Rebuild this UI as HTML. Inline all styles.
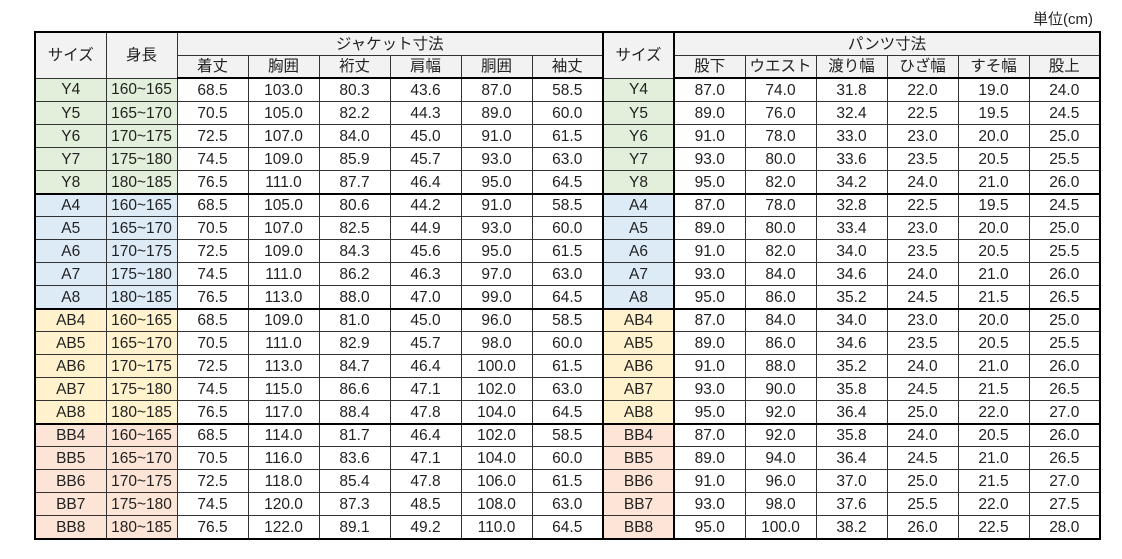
<!DOCTYPE html>
<html><head><meta charset="utf-8"><style>
body{margin:0;background:#fff;width:1122px;height:559px;overflow:hidden;font-family:"Liberation Sans","Noto Sans CJK JP",sans-serif;color:#222;}
.unit{position:absolute;left:1033px;top:8px;font-size:15px;}
table{position:absolute;left:34px;top:31px;border-collapse:collapse;table-layout:fixed;width:1066px;border:2px solid #000;}
td,th{border:1px solid #333;height:22px;padding:0;text-align:center;font-size:15.5px;font-weight:normal;line-height:21px;}
th{background:#f2f2f2;}
tr.hd2 th{border-bottom:2px solid #000;height:21px;}
tr.g td{border-top:2px solid #000;height:21px;}
.tk{border-left:2px solid #000;}
.tk2{border-right:2px solid #000;}
.y{background:#e2efda}.a{background:#ddebf7}.ab{background:#fff2cc}.b{background:#fce4d6}
</style></head><body>
<div class="unit">単位(cm)</div>
<table>
<colgroup><col span="15" style="width:71px"></colgroup>
<tr><th rowspan="2">サイズ</th><th rowspan="2">身長</th><th colspan="6">ジャケット寸法</th><th rowspan="2" class="tk tk2">サイズ</th><th colspan="6">パンツ寸法</th></tr>
<tr class="hd2"><th>着丈</th><th>胸囲</th><th>裄丈</th><th>肩幅</th><th>胴囲</th><th>袖丈</th><th>股下</th><th>ウエスト</th><th>渡り幅</th><th>ひざ幅</th><th>すそ幅</th><th>股上</th></tr>
<tr><td class="y">Y4</td><td class="y">160~165</td><td>68.5</td><td>103.0</td><td>80.3</td><td>43.6</td><td>87.0</td><td>58.5</td><td class="y tk tk2">Y4</td><td>87.0</td><td>74.0</td><td>31.8</td><td>22.0</td><td>19.0</td><td>24.0</td></tr>
<tr><td class="y">Y5</td><td class="y">165~170</td><td>70.5</td><td>105.0</td><td>82.2</td><td>44.3</td><td>89.0</td><td>60.0</td><td class="y tk tk2">Y5</td><td>89.0</td><td>76.0</td><td>32.4</td><td>22.5</td><td>19.5</td><td>24.5</td></tr>
<tr><td class="y">Y6</td><td class="y">170~175</td><td>72.5</td><td>107.0</td><td>84.0</td><td>45.0</td><td>91.0</td><td>61.5</td><td class="y tk tk2">Y6</td><td>91.0</td><td>78.0</td><td>33.0</td><td>23.0</td><td>20.0</td><td>25.0</td></tr>
<tr><td class="y">Y7</td><td class="y">175~180</td><td>74.5</td><td>109.0</td><td>85.9</td><td>45.7</td><td>93.0</td><td>63.0</td><td class="y tk tk2">Y7</td><td>93.0</td><td>80.0</td><td>33.6</td><td>23.5</td><td>20.5</td><td>25.5</td></tr>
<tr><td class="y">Y8</td><td class="y">180~185</td><td>76.5</td><td>111.0</td><td>87.7</td><td>46.4</td><td>95.0</td><td>64.5</td><td class="y tk tk2">Y8</td><td>95.0</td><td>82.0</td><td>34.2</td><td>24.0</td><td>21.0</td><td>26.0</td></tr>
<tr class="g"><td class="a">A4</td><td class="a">160~165</td><td>68.5</td><td>105.0</td><td>80.6</td><td>44.2</td><td>91.0</td><td>58.5</td><td class="a tk tk2">A4</td><td>87.0</td><td>78.0</td><td>32.8</td><td>22.5</td><td>19.5</td><td>24.5</td></tr>
<tr><td class="a">A5</td><td class="a">165~170</td><td>70.5</td><td>107.0</td><td>82.5</td><td>44.9</td><td>93.0</td><td>60.0</td><td class="a tk tk2">A5</td><td>89.0</td><td>80.0</td><td>33.4</td><td>23.0</td><td>20.0</td><td>25.0</td></tr>
<tr><td class="a">A6</td><td class="a">170~175</td><td>72.5</td><td>109.0</td><td>84.3</td><td>45.6</td><td>95.0</td><td>61.5</td><td class="a tk tk2">A6</td><td>91.0</td><td>82.0</td><td>34.0</td><td>23.5</td><td>20.5</td><td>25.5</td></tr>
<tr><td class="a">A7</td><td class="a">175~180</td><td>74.5</td><td>111.0</td><td>86.2</td><td>46.3</td><td>97.0</td><td>63.0</td><td class="a tk tk2">A7</td><td>93.0</td><td>84.0</td><td>34.6</td><td>24.0</td><td>21.0</td><td>26.0</td></tr>
<tr><td class="a">A8</td><td class="a">180~185</td><td>76.5</td><td>113.0</td><td>88.0</td><td>47.0</td><td>99.0</td><td>64.5</td><td class="a tk tk2">A8</td><td>95.0</td><td>86.0</td><td>35.2</td><td>24.5</td><td>21.5</td><td>26.5</td></tr>
<tr class="g"><td class="ab">AB4</td><td class="ab">160~165</td><td>68.5</td><td>109.0</td><td>81.0</td><td>45.0</td><td>96.0</td><td>58.5</td><td class="ab tk tk2">AB4</td><td>87.0</td><td>84.0</td><td>34.0</td><td>23.0</td><td>20.0</td><td>25.0</td></tr>
<tr><td class="ab">AB5</td><td class="ab">165~170</td><td>70.5</td><td>111.0</td><td>82.9</td><td>45.7</td><td>98.0</td><td>60.0</td><td class="ab tk tk2">AB5</td><td>89.0</td><td>86.0</td><td>34.6</td><td>23.5</td><td>20.5</td><td>25.5</td></tr>
<tr><td class="ab">AB6</td><td class="ab">170~175</td><td>72.5</td><td>113.0</td><td>84.7</td><td>46.4</td><td>100.0</td><td>61.5</td><td class="ab tk tk2">AB6</td><td>91.0</td><td>88.0</td><td>35.2</td><td>24.0</td><td>21.0</td><td>26.0</td></tr>
<tr><td class="ab">AB7</td><td class="ab">175~180</td><td>74.5</td><td>115.0</td><td>86.6</td><td>47.1</td><td>102.0</td><td>63.0</td><td class="ab tk tk2">AB7</td><td>93.0</td><td>90.0</td><td>35.8</td><td>24.5</td><td>21.5</td><td>26.5</td></tr>
<tr><td class="ab">AB8</td><td class="ab">180~185</td><td>76.5</td><td>117.0</td><td>88.4</td><td>47.8</td><td>104.0</td><td>64.5</td><td class="ab tk tk2">AB8</td><td>95.0</td><td>92.0</td><td>36.4</td><td>25.0</td><td>22.0</td><td>27.0</td></tr>
<tr class="g"><td class="b">BB4</td><td class="b">160~165</td><td>68.5</td><td>114.0</td><td>81.7</td><td>46.4</td><td>102.0</td><td>58.5</td><td class="b tk tk2">BB4</td><td>87.0</td><td>92.0</td><td>35.8</td><td>24.0</td><td>20.5</td><td>26.0</td></tr>
<tr><td class="b">BB5</td><td class="b">165~170</td><td>70.5</td><td>116.0</td><td>83.6</td><td>47.1</td><td>104.0</td><td>60.0</td><td class="b tk tk2">BB5</td><td>89.0</td><td>94.0</td><td>36.4</td><td>24.5</td><td>21.0</td><td>26.5</td></tr>
<tr><td class="b">BB6</td><td class="b">170~175</td><td>72.5</td><td>118.0</td><td>85.4</td><td>47.8</td><td>106.0</td><td>61.5</td><td class="b tk tk2">BB6</td><td>91.0</td><td>96.0</td><td>37.0</td><td>25.0</td><td>21.5</td><td>27.0</td></tr>
<tr><td class="b">BB7</td><td class="b">175~180</td><td>74.5</td><td>120.0</td><td>87.3</td><td>48.5</td><td>108.0</td><td>63.0</td><td class="b tk tk2">BB7</td><td>93.0</td><td>98.0</td><td>37.6</td><td>25.5</td><td>22.0</td><td>27.5</td></tr>
<tr><td class="b">BB8</td><td class="b">180~185</td><td>76.5</td><td>122.0</td><td>89.1</td><td>49.2</td><td>110.0</td><td>64.5</td><td class="b tk tk2">BB8</td><td>95.0</td><td>100.0</td><td>38.2</td><td>26.0</td><td>22.5</td><td>28.0</td></tr>
</table>
</body></html>
